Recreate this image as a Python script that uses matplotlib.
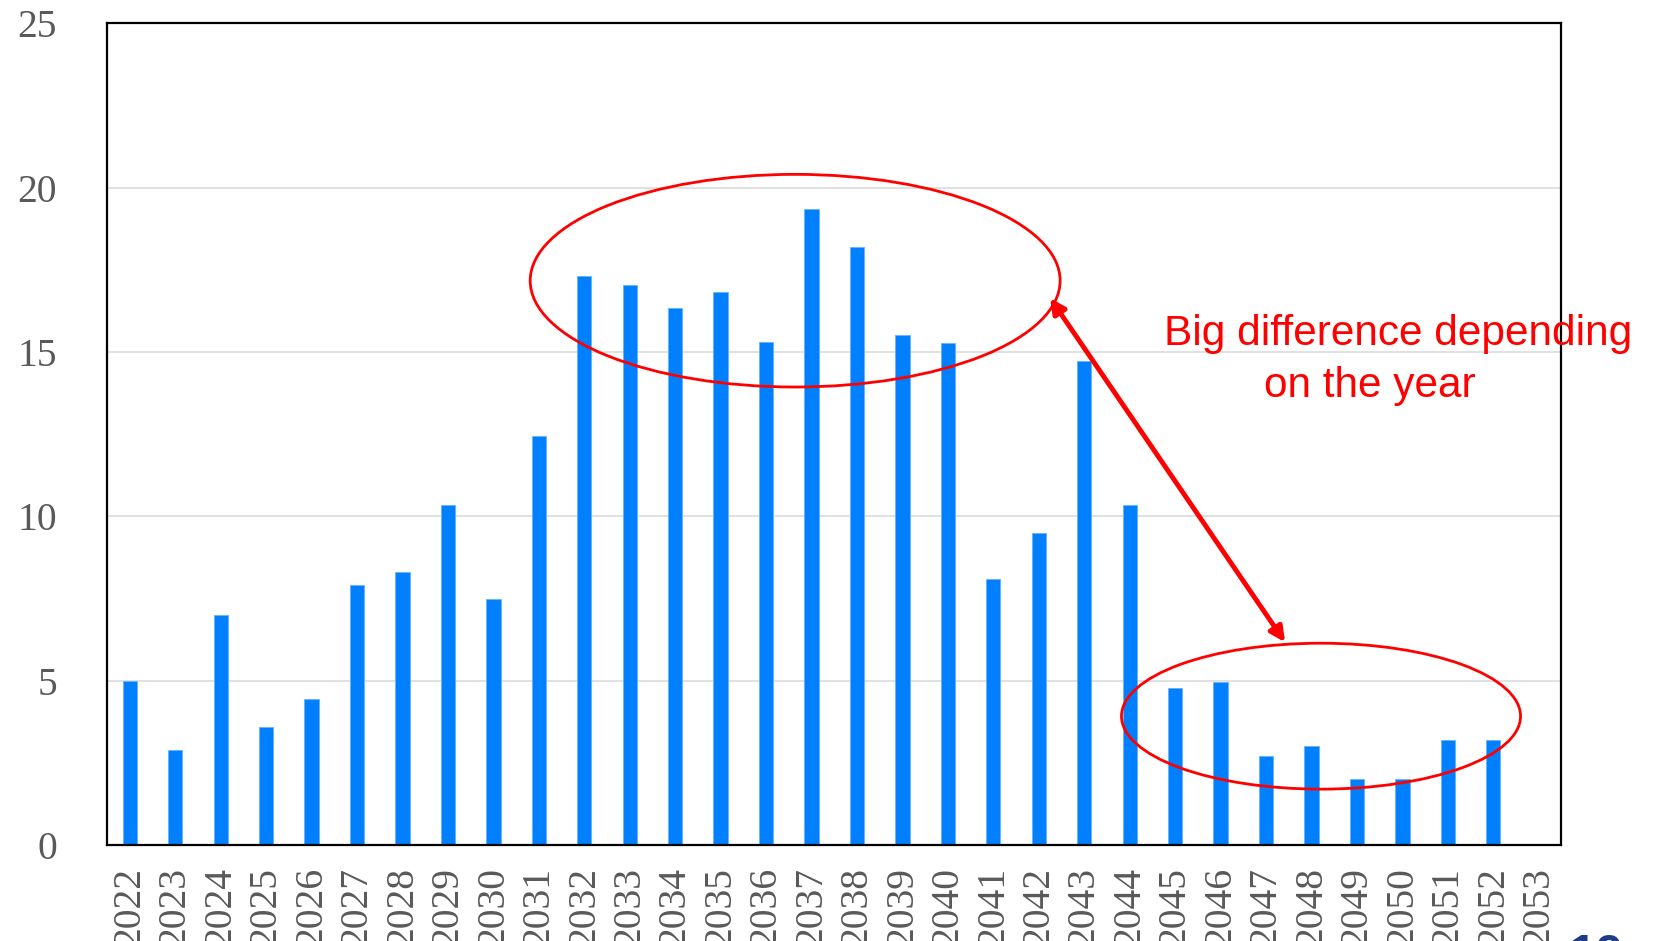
"""Bar chart by year with highlighted groups"""

import matplotlib
matplotlib.use("Agg")

import matplotlib.pyplot as plt
from matplotlib.patches import Ellipse

# ==========================================================
# DATA
# ==========================================================

years = [str(y) for y in range(2022, 2054)]

values = [
    5.0, 2.9, 7.0, 3.6, 4.45, 7.9, 8.3, 10.35, 7.5, 12.45,
    17.3, 17.05, 16.35, 16.83, 15.3, 19.34, 18.18, 15.53, 15.28, 8.1,
    9.5, 14.72, 10.35, 4.78, 4.95, 2.72, 3.0, 2.0, 2.0, 3.19,
    3.19, 0.0,
]

y_ticks = [0, 5, 10, 15, 20, 25]

note_lines = ["Big difference depending", "on the year"]

# ==========================================================
# FIGURE
# ==========================================================

fig = plt.figure(figsize=(16.65, 9.41), dpi=100, facecolor="white")
ax = fig.add_axes([0.0643, 0.1020, 0.8735, 0.8732])

x = range(len(years))

ax.bar(
    x,
    values,
    width=0.315,
    color="#0080FF",
    edgecolor="#66B2FF",
    linewidth=0.6,
    zorder=2
)

ax.set_xlim(-0.5, len(years) - 0.5)
ax.set_ylim(0, 25)

# ==========================================================
# AXES STYLE
# ==========================================================

ax.set_yticks(y_ticks)
ax.set_yticklabels([str(t) for t in y_ticks])
ax.set_xticks(list(x))
ax.set_xticklabels(years, rotation=90, va="top")

ax.tick_params(axis="y", length=0, pad=36, labelsize=28.5,
               labelcolor="#595959")
ax.tick_params(axis="x", length=0, pad=16, labelsize=28.5,
               labelcolor="#595959")

for lab in ax.get_xticklabels() + ax.get_yticklabels():
    lab.set_family("Liberation Serif")

ax.grid(axis="y", color="#D9D9D9", linewidth=1.1, zorder=0)
ax.set_axisbelow(True)

for sp in ax.spines.values():
    sp.set_color("black")
    sp.set_linewidth(1.6)

# ==========================================================
# ANNOTATIONS
# ==========================================================

ax.add_patch(Ellipse(
    (14.64, 17.17), 11.66, 6.47,
    fill=False, edgecolor="#FF0000", linewidth=2.0, zorder=4
))

ax.add_patch(Ellipse(
    (26.21, 3.92), 8.78, 4.44,
    fill=False, edgecolor="#FF0000", linewidth=2.0, zorder=4
))

ax.annotate(
    "",
    xy=(20.25, 16.64),
    xytext=(25.42, 6.17),
    arrowprops=dict(
        arrowstyle="<|-|>",
        color="#FF0000",
        lw=3.5,
        mutation_scale=22,
        shrinkA=0,
        shrinkB=0
    ),
    zorder=5
)

ax.text(27.91, 15.21, note_lines[0], fontsize=30.5, color="#FF0000",
        family="Liberation Sans", ha="center", va="baseline", zorder=6)
ax.text(27.29, 13.63, note_lines[1], fontsize=30.5, color="#FF0000",
        family="Liberation Sans", ha="center", va="baseline", zorder=6)

# page number, mostly cut off at the bottom edge
fig.text(0.943, 0.009, "19", fontsize=34, color="#1F3C88",
         fontweight="bold", family="Liberation Sans", ha="left", va="top")

# ==========================================================
# SAVE
# ==========================================================

fig.savefig("out.png", dpi=100, facecolor="white")
plt.close()
